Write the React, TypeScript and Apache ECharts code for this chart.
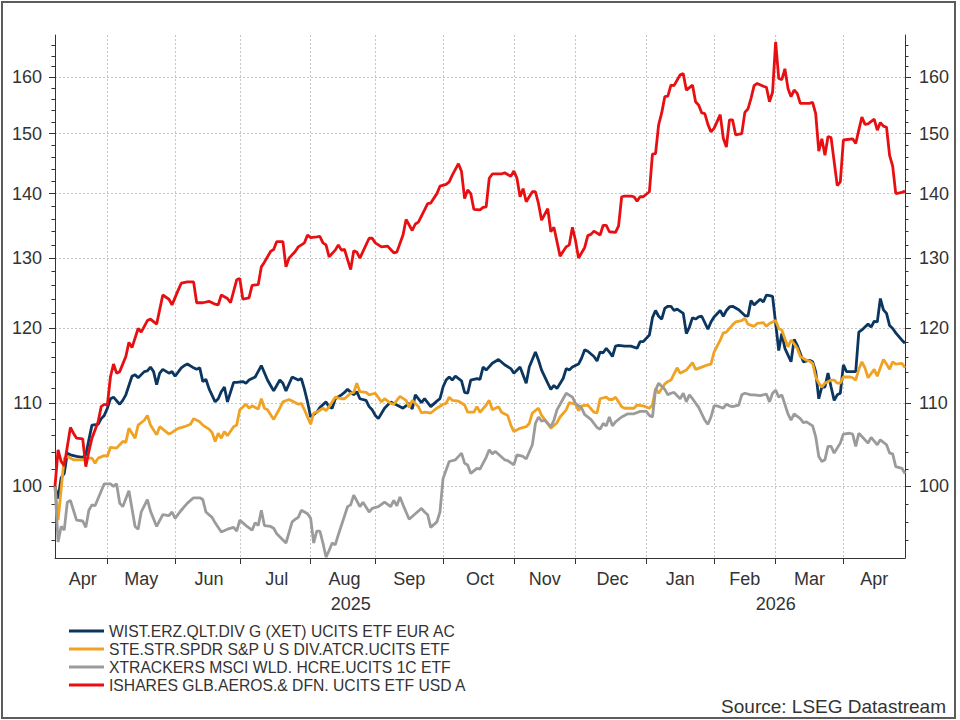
import React, { useEffect, useRef } from "react";
import * as echarts from "echarts";

// Trading-day calendar shown on the x axis (weekdays only)
const START_DAY = "2025-04-08";
const END_DAY = "2026-04-29";
const MONTH_NAMES = ["Jan", "Feb", "Mar", "Apr", "May", "Jun", "Jul", "Aug", "Sep", "Oct", "Nov", "Dec"];

// Logarithmic value axis
const Y_MIN = 92.1;
const Y_MAX = 168;
const Y_MAJOR = [100, 110, 120, 130, 140, 150, 160];
const Y_MINOR = [94, 96, 98, 100, 102, 104, 106, 108, 110, 112, 114, 116, 118, 120, 122, 124, 126, 128, 130, 132, 134, 136, 138, 140, 142, 144, 146, 148, 150, 152, 154, 156, 158, 160, 162, 164, 166];

const SERIES_NAMES = [
  "WIST.ERZ.QLT.DIV G (XET) UCITS ETF EUR AC",
  "STE.STR.SPDR S&P U S DIV.ATCR.UCITS ETF",
  "XTRACKERS MSCI WLD. HCRE.UCITS 1C ETF",
  "ISHARES GLB.AEROS.& DFN. UCITS ETF USD A",
];
const SERIES_COLORS = ["#0b365f", "#f0a223", "#9b9b9b", "#e80f12"];

type Pt = [string, number];

const wisdomTreeQuality: Pt[] = [
  ["2025-04-08", 100.0], ["2025-04-09", 98.6], ["2025-04-10", 101.0], ["2025-04-11", 101.5], ["2025-04-14", 103.9],
  ["2025-04-15", 103.7], ["2025-04-17", 103.5], ["2025-04-21", 103.4], ["2025-04-22", 103.7], ["2025-04-23", 105.5],
  ["2025-04-24", 107.3], ["2025-04-28", 107.4], ["2025-04-29", 108.1], ["2025-04-30", 108.5], ["2025-05-01", 109.4],
  ["2025-05-02", 110.6], ["2025-05-05", 110.8], ["2025-05-07", 109.9], ["2025-05-08", 110.4], ["2025-05-09", 111.1],
  ["2025-05-13", 113.5], ["2025-05-14", 113.7], ["2025-05-15", 113.3], ["2025-05-19", 114.1], ["2025-05-20", 114.2],
  ["2025-05-21", 114.7], ["2025-05-22", 114.1], ["2025-05-23", 112.4], ["2025-05-26", 113.9], ["2025-05-27", 114.4],
  ["2025-05-29", 113.9], ["2025-05-30", 114.1], ["2025-06-02", 113.5], ["2025-06-04", 114.6], ["2025-06-05", 114.9],
  ["2025-06-06", 115.1], ["2025-06-10", 114.6], ["2025-06-11", 114.4], ["2025-06-12", 114.6], ["2025-06-13", 112.8],
  ["2025-06-16", 113.1], ["2025-06-17", 111.9], ["2025-06-19", 110.2], ["2025-06-20", 110.6], ["2025-06-23", 111.5],
  ["2025-06-24", 112.1], ["2025-06-25", 110.2], ["2025-06-27", 112.7], ["2025-06-30", 112.7], ["2025-07-02", 112.8],
  ["2025-07-03", 112.6], ["2025-07-04", 113.0], ["2025-07-08", 113.4], ["2025-07-10", 114.9], ["2025-07-14", 113.0],
  ["2025-07-15", 112.3], ["2025-07-16", 111.6], ["2025-07-18", 113.0], ["2025-07-21", 112.6], ["2025-07-22", 111.6],
  ["2025-07-24", 113.4], ["2025-07-28", 113.0], ["2025-07-29", 113.2], ["2025-07-30", 111.8], ["2025-07-31", 110.2],
  ["2025-08-01", 108.3], ["2025-08-05", 108.9], ["2025-08-06", 109.5], ["2025-08-08", 110.2], ["2025-08-11", 109.6],
  ["2025-08-12", 109.4], ["2025-08-13", 110.6], ["2025-08-15", 111.1], ["2025-08-18", 111.4], ["2025-08-19", 111.8],
  ["2025-08-21", 111.1], ["2025-08-22", 111.5], ["2025-08-25", 110.6], ["2025-08-27", 110.4], ["2025-08-28", 109.6],
  ["2025-08-29", 109.2], ["2025-09-01", 108.5], ["2025-09-02", 108.1], ["2025-09-04", 109.4], ["2025-09-08", 110.2],
  ["2025-09-10", 109.8], ["2025-09-12", 109.4], ["2025-09-16", 110.0], ["2025-09-17", 109.3], ["2025-09-18", 111.1],
  ["2025-09-22", 110.1], ["2025-09-23", 110.6], ["2025-09-25", 109.6], ["2025-09-29", 110.3], ["2025-09-30", 110.6],
  ["2025-10-01", 112.1], ["2025-10-02", 113.0], ["2025-10-03", 113.4], ["2025-10-06", 113.0], ["2025-10-07", 113.5],
  ["2025-10-09", 112.9], ["2025-10-10", 111.4], ["2025-10-13", 111.3], ["2025-10-14", 113.0], ["2025-10-16", 113.2],
  ["2025-10-17", 113.1], ["2025-10-20", 114.7], ["2025-10-21", 114.3], ["2025-10-23", 115.2], ["2025-10-27", 115.7],
  ["2025-10-29", 115.0], ["2025-10-31", 114.5], ["2025-11-03", 113.9], ["2025-11-05", 114.7], ["2025-11-07", 112.6],
  ["2025-11-10", 114.7], ["2025-11-12", 116.7], ["2025-11-13", 115.6], ["2025-11-14", 114.3], ["2025-11-18", 112.6],
  ["2025-11-19", 111.8], ["2025-11-20", 112.3], ["2025-11-21", 111.9], ["2025-11-25", 113.2], ["2025-11-26", 114.5],
  ["2025-11-27", 114.3], ["2025-11-28", 114.7], ["2025-12-02", 115.1], ["2025-12-03", 115.9], ["2025-12-04", 117.0],
  ["2025-12-05", 116.8], ["2025-12-09", 116.1], ["2025-12-10", 115.5], ["2025-12-11", 116.7], ["2025-12-12", 116.6],
  ["2025-12-15", 117.2], ["2025-12-16", 116.7], ["2025-12-17", 116.1], ["2025-12-18", 117.5], ["2025-12-19", 117.6],
  ["2025-12-23", 117.5], ["2025-12-25", 117.5], ["2025-12-29", 117.2], ["2025-12-30", 118.1], ["2025-12-31", 118.1],
  ["2026-01-02", 119.0], ["2026-01-05", 121.4], ["2026-01-06", 122.4], ["2026-01-07", 121.6], ["2026-01-08", 121.2],
  ["2026-01-09", 122.7], ["2026-01-12", 123.0], ["2026-01-13", 123.0], ["2026-01-14", 122.4], ["2026-01-15", 122.6],
  ["2026-01-19", 122.0], ["2026-01-20", 119.2], ["2026-01-21", 120.1], ["2026-01-22", 121.4], ["2026-01-23", 121.2],
  ["2026-01-26", 121.5], ["2026-01-27", 121.6], ["2026-01-29", 119.8], ["2026-01-30", 120.8], ["2026-02-02", 121.5],
  ["2026-02-04", 122.4], ["2026-02-05", 121.6], ["2026-02-06", 122.4], ["2026-02-09", 122.9], ["2026-02-10", 123.0],
  ["2026-02-12", 122.5], ["2026-02-16", 121.7], ["2026-02-17", 121.6], ["2026-02-18", 123.8], ["2026-02-19", 123.2],
  ["2026-02-23", 124.0], ["2026-02-24", 123.6], ["2026-02-25", 124.6], ["2026-02-26", 124.5], ["2026-02-27", 124.4],
  ["2026-03-02", 120.6], ["2026-03-03", 116.9], ["2026-03-04", 119.2], ["2026-03-05", 117.2], ["2026-03-09", 115.4],
  ["2026-03-10", 118.4], ["2026-03-11", 117.6], ["2026-03-13", 115.4], ["2026-03-17", 115.6], ["2026-03-18", 115.4],
  ["2026-03-19", 114.1], ["2026-03-20", 110.6], ["2026-03-23", 112.1], ["2026-03-24", 112.1], ["2026-03-25", 113.9],
  ["2026-03-26", 112.1], ["2026-03-27", 110.4], ["2026-03-30", 111.1], ["2026-03-31", 111.3], ["2026-04-01", 115.0],
  ["2026-04-02", 114.1], ["2026-04-06", 114.1], ["2026-04-07", 114.1], ["2026-04-08", 119.4], ["2026-04-09", 119.7],
  ["2026-04-10", 120.1], ["2026-04-13", 120.5], ["2026-04-14", 120.1], ["2026-04-15", 120.9], ["2026-04-16", 120.8],
  ["2026-04-17", 124.1], ["2026-04-20", 122.5], ["2026-04-21", 122.0], ["2026-04-22", 120.3], ["2026-04-23", 119.9],
  ["2026-04-24", 119.3], ["2026-04-28", 118.3], ["2026-04-29", 117.9],
];

const spdrDividend: Pt[] = [
  ["2025-04-08", 100.0], ["2025-04-09", 96.2], ["2025-04-11", 103.3], ["2025-04-14", 103.5], ["2025-04-16", 103.1],
  ["2025-04-18", 103.1], ["2025-04-21", 103.1], ["2025-04-22", 103.3], ["2025-04-24", 103.3], ["2025-04-25", 102.7],
  ["2025-04-28", 103.3], ["2025-04-30", 103.6], ["2025-05-01", 103.5], ["2025-05-02", 104.6], ["2025-05-06", 104.5],
  ["2025-05-08", 105.3], ["2025-05-09", 105.2], ["2025-05-12", 106.9], ["2025-05-14", 105.7], ["2025-05-15", 107.3],
  ["2025-05-19", 107.9], ["2025-05-20", 108.5], ["2025-05-21", 107.3], ["2025-05-23", 106.1], ["2025-05-26", 107.1],
  ["2025-05-27", 106.8], ["2025-05-29", 106.2], ["2025-05-30", 106.4], ["2025-06-03", 106.9], ["2025-06-04", 107.0],
  ["2025-06-05", 107.1], ["2025-06-09", 107.4], ["2025-06-10", 108.1], ["2025-06-12", 107.7], ["2025-06-13", 107.3],
  ["2025-06-17", 106.8], ["2025-06-18", 106.4], ["2025-06-19", 105.3], ["2025-06-20", 106.3], ["2025-06-23", 105.7],
  ["2025-06-24", 106.5], ["2025-06-25", 106.0], ["2025-06-27", 107.1], ["2025-06-30", 107.3], ["2025-07-01", 109.2],
  ["2025-07-03", 109.9], ["2025-07-04", 109.4], ["2025-07-07", 109.7], ["2025-07-09", 109.3], ["2025-07-10", 110.6],
  ["2025-07-11", 109.4], ["2025-07-14", 109.2], ["2025-07-16", 108.0], ["2025-07-18", 109.4], ["2025-07-21", 110.2],
  ["2025-07-23", 110.5], ["2025-07-24", 110.3], ["2025-07-28", 109.9], ["2025-07-29", 110.0], ["2025-07-30", 109.2],
  ["2025-08-01", 107.4], ["2025-08-04", 108.8], ["2025-08-05", 108.9], ["2025-08-07", 109.4], ["2025-08-08", 109.1],
  ["2025-08-11", 109.6], ["2025-08-13", 110.8], ["2025-08-15", 110.6], ["2025-08-18", 110.6], ["2025-08-20", 111.3],
  ["2025-08-21", 111.4], ["2025-08-22", 112.6], ["2025-08-25", 111.5], ["2025-08-27", 111.4], ["2025-08-28", 111.1],
  ["2025-09-01", 111.3], ["2025-09-03", 110.2], ["2025-09-04", 110.6], ["2025-09-08", 110.0], ["2025-09-09", 109.9],
  ["2025-09-11", 110.9], ["2025-09-15", 110.4], ["2025-09-16", 109.5], ["2025-09-17", 110.4], ["2025-09-19", 109.6],
  ["2025-09-22", 108.8], ["2025-09-23", 108.9], ["2025-09-25", 108.8], ["2025-09-29", 109.4], ["2025-10-01", 109.9],
  ["2025-10-02", 110.0], ["2025-10-03", 110.8], ["2025-10-06", 110.4], ["2025-10-08", 110.3], ["2025-10-10", 109.8],
  ["2025-10-13", 108.9], ["2025-10-15", 108.9], ["2025-10-16", 109.6], ["2025-10-17", 108.9], ["2025-10-21", 109.8],
  ["2025-10-22", 110.4], ["2025-10-23", 109.2], ["2025-10-27", 109.6], ["2025-10-28", 108.9], ["2025-10-30", 108.5],
  ["2025-10-31", 107.3], ["2025-11-03", 106.5], ["2025-11-05", 106.9], ["2025-11-07", 107.1], ["2025-11-10", 107.5],
  ["2025-11-11", 108.8], ["2025-11-13", 109.4], ["2025-11-14", 108.5], ["2025-11-18", 107.5], ["2025-11-19", 106.9],
  ["2025-11-21", 107.6], ["2025-11-24", 108.3], ["2025-11-26", 109.2], ["2025-11-27", 110.1], ["2025-12-01", 109.9],
  ["2025-12-02", 109.1], ["2025-12-03", 109.7], ["2025-12-05", 109.8], ["2025-12-09", 108.9], ["2025-12-10", 108.8],
  ["2025-12-11", 110.6], ["2025-12-15", 110.8], ["2025-12-16", 110.5], ["2025-12-17", 110.5], ["2025-12-18", 110.8],
  ["2025-12-22", 109.6], ["2025-12-23", 109.4], ["2025-12-26", 109.4], ["2025-12-29", 109.8], ["2025-12-31", 109.7],
  ["2026-01-02", 109.4], ["2026-01-05", 109.8], ["2026-01-06", 111.9], ["2026-01-07", 111.3], ["2026-01-09", 112.5],
  ["2026-01-12", 112.8], ["2026-01-13", 113.0], ["2026-01-15", 114.6], ["2026-01-16", 113.9], ["2026-01-20", 114.3],
  ["2026-01-22", 115.3], ["2026-01-23", 114.4], ["2026-01-27", 114.7], ["2026-01-29", 115.0], ["2026-01-30", 115.1],
  ["2026-02-02", 116.7], ["2026-02-04", 118.3], ["2026-02-05", 119.3], ["2026-02-06", 119.4], ["2026-02-10", 120.4],
  ["2026-02-11", 120.8], ["2026-02-13", 121.0], ["2026-02-16", 121.3], ["2026-02-17", 120.5], ["2026-02-19", 120.2],
  ["2026-02-20", 120.6], ["2026-02-24", 120.7], ["2026-02-25", 120.2], ["2026-02-26", 120.6], ["2026-03-02", 121.0],
  ["2026-03-03", 119.9], ["2026-03-04", 119.7], ["2026-03-05", 118.5], ["2026-03-06", 117.4], ["2026-03-09", 118.3],
  ["2026-03-10", 117.8], ["2026-03-11", 117.2], ["2026-03-12", 116.1], ["2026-03-16", 115.6], ["2026-03-17", 115.5],
  ["2026-03-18", 115.2], ["2026-03-19", 113.4], ["2026-03-20", 112.6], ["2026-03-23", 112.1], ["2026-03-24", 112.6],
  ["2026-03-26", 113.0], ["2026-03-27", 113.0], ["2026-03-30", 112.6], ["2026-03-31", 112.6], ["2026-04-01", 113.4],
  ["2026-04-03", 113.4], ["2026-04-06", 113.3], ["2026-04-07", 113.0], ["2026-04-08", 114.4], ["2026-04-09", 115.4],
  ["2026-04-10", 114.6], ["2026-04-13", 113.3], ["2026-04-15", 114.4], ["2026-04-16", 113.5], ["2026-04-17", 114.6],
  ["2026-04-20", 115.7], ["2026-04-21", 115.1], ["2026-04-22", 114.4], ["2026-04-23", 115.4], ["2026-04-24", 115.1],
  ["2026-04-28", 115.2], ["2026-04-29", 114.6],
];

const xtrackersHealthcare: Pt[] = [
  ["2025-04-08", 100.0], ["2025-04-09", 93.8], ["2025-04-10", 95.5], ["2025-04-11", 95.1], ["2025-04-14", 98.2],
  ["2025-04-15", 98.4], ["2025-04-17", 96.2], ["2025-04-21", 96.1], ["2025-04-22", 95.4], ["2025-04-23", 97.3],
  ["2025-04-24", 97.9], ["2025-04-25", 97.8], ["2025-04-30", 100.3], ["2025-05-02", 100.3], ["2025-05-05", 100.0],
  ["2025-05-06", 100.3], ["2025-05-07", 98.1], ["2025-05-08", 97.7], ["2025-05-12", 99.5], ["2025-05-14", 95.5],
  ["2025-05-15", 95.2], ["2025-05-16", 97.1], ["2025-05-20", 98.5], ["2025-05-21", 97.2], ["2025-05-23", 95.5],
  ["2025-05-27", 96.8], ["2025-05-29", 96.7], ["2025-05-30", 97.1], ["2025-06-02", 96.4], ["2025-06-04", 97.3],
  ["2025-06-05", 97.7], ["2025-06-06", 98.1], ["2025-06-10", 98.7], ["2025-06-12", 98.7], ["2025-06-13", 98.5],
  ["2025-06-16", 97.1], ["2025-06-18", 96.5], ["2025-06-19", 95.9], ["2025-06-23", 94.9], ["2025-06-25", 95.2],
  ["2025-06-27", 95.4], ["2025-06-30", 95.0], ["2025-07-01", 96.2], ["2025-07-03", 95.6], ["2025-07-07", 95.1],
  ["2025-07-08", 95.9], ["2025-07-09", 95.6], ["2025-07-10", 97.3], ["2025-07-11", 95.6], ["2025-07-15", 95.5],
  ["2025-07-16", 95.3], ["2025-07-17", 94.7], ["2025-07-22", 93.7], ["2025-07-24", 96.0], ["2025-07-25", 96.3],
  ["2025-07-28", 96.5], ["2025-07-29", 97.3], ["2025-07-30", 97.1], ["2025-07-31", 96.9], ["2025-08-01", 96.4],
  ["2025-08-04", 93.7], ["2025-08-05", 95.0], ["2025-08-06", 95.0], ["2025-08-07", 93.7], ["2025-08-08", 92.2],
  ["2025-08-11", 92.9], ["2025-08-12", 93.7], ["2025-08-13", 93.5], ["2025-08-14", 94.6], ["2025-08-19", 97.7],
  ["2025-08-20", 97.9], ["2025-08-21", 99.0], ["2025-08-25", 97.7], ["2025-08-26", 98.2], ["2025-08-28", 97.1],
  ["2025-08-29", 97.5], ["2025-09-02", 97.7], ["2025-09-04", 98.2], ["2025-09-08", 97.7], ["2025-09-09", 98.4],
  ["2025-09-10", 97.8], ["2025-09-11", 98.8], ["2025-09-12", 97.9], ["2025-09-16", 96.3], ["2025-09-18", 96.9],
  ["2025-09-22", 97.5], ["2025-09-23", 97.1], ["2025-09-24", 96.8], ["2025-09-25", 95.4], ["2025-09-29", 96.0],
  ["2025-09-30", 97.1], ["2025-10-01", 100.9], ["2025-10-03", 102.9], ["2025-10-07", 103.1], ["2025-10-09", 103.9],
  ["2025-10-10", 102.7], ["2025-10-13", 102.5], ["2025-10-14", 101.5], ["2025-10-16", 102.1], ["2025-10-17", 102.0],
  ["2025-10-21", 103.4], ["2025-10-22", 104.3], ["2025-10-23", 103.8], ["2025-10-24", 104.1], ["2025-10-29", 103.1],
  ["2025-10-30", 103.0], ["2025-11-03", 102.5], ["2025-11-04", 103.7], ["2025-11-06", 103.5], ["2025-11-07", 103.2],
  ["2025-11-11", 104.9], ["2025-11-12", 107.5], ["2025-11-13", 108.3], ["2025-11-14", 107.8], ["2025-11-17", 107.9],
  ["2025-11-19", 107.1], ["2025-11-20", 107.9], ["2025-11-21", 109.2], ["2025-11-25", 110.6], ["2025-11-26", 111.3],
  ["2025-11-28", 110.8], ["2025-12-01", 110.0], ["2025-12-03", 109.4], ["2025-12-04", 108.6], ["2025-12-08", 108.0],
  ["2025-12-10", 107.0], ["2025-12-11", 106.8], ["2025-12-12", 107.5], ["2025-12-15", 107.2], ["2025-12-16", 108.3],
  ["2025-12-17", 107.2], ["2025-12-18", 107.7], ["2025-12-22", 108.3], ["2025-12-24", 108.7], ["2025-12-26", 108.7],
  ["2025-12-30", 109.0], ["2026-01-01", 109.0], ["2026-01-02", 108.5], ["2026-01-05", 108.3], ["2026-01-06", 111.7],
  ["2026-01-07", 112.6], ["2026-01-09", 111.8], ["2026-01-12", 111.1], ["2026-01-13", 111.3], ["2026-01-14", 111.4],
  ["2026-01-16", 110.6], ["2026-01-19", 111.3], ["2026-01-20", 110.2], ["2026-01-21", 111.1], ["2026-01-22", 110.6],
  ["2026-01-26", 109.5], ["2026-01-28", 107.9], ["2026-01-29", 107.4], ["2026-01-30", 108.3], ["2026-02-02", 109.7],
  ["2026-02-03", 109.7], ["2026-02-05", 109.4], ["2026-02-06", 109.9], ["2026-02-09", 109.7], ["2026-02-10", 109.6],
  ["2026-02-12", 109.8], ["2026-02-13", 111.1], ["2026-02-16", 111.3], ["2026-02-18", 111.1], ["2026-02-19", 111.1],
  ["2026-02-23", 111.0], ["2026-02-25", 111.2], ["2026-02-26", 110.2], ["2026-02-27", 111.3], ["2026-03-02", 111.7],
  ["2026-03-03", 110.8], ["2026-03-04", 111.1], ["2026-03-06", 108.7], ["2026-03-09", 107.9], ["2026-03-10", 108.7],
  ["2026-03-12", 108.1], ["2026-03-13", 107.6], ["2026-03-16", 107.7], ["2026-03-18", 107.2], ["2026-03-19", 105.9],
  ["2026-03-20", 103.5], ["2026-03-23", 102.9], ["2026-03-24", 103.1], ["2026-03-25", 104.7], ["2026-03-26", 104.7],
  ["2026-03-27", 103.9], ["2026-03-31", 105.1], ["2026-04-01", 106.2], ["2026-04-03", 106.3], ["2026-04-06", 106.2],
  ["2026-04-07", 104.7], ["2026-04-08", 106.3], ["2026-04-09", 105.9], ["2026-04-13", 105.1], ["2026-04-14", 105.8],
  ["2026-04-16", 104.9], ["2026-04-17", 105.5], ["2026-04-21", 104.9], ["2026-04-22", 103.9], ["2026-04-23", 103.8],
  ["2026-04-24", 102.3], ["2026-04-28", 102.1], ["2026-04-29", 101.5],
];

const isharesDefence: Pt[] = [
  ["2025-04-08", 100.0], ["2025-04-09", 104.3], ["2025-04-10", 102.9], ["2025-04-11", 102.4], ["2025-04-15", 107.0],
  ["2025-04-16", 106.3], ["2025-04-17", 105.7], ["2025-04-21", 105.6], ["2025-04-22", 102.3], ["2025-04-23", 104.1],
  ["2025-04-24", 105.7], ["2025-04-28", 107.7], ["2025-04-29", 109.6], ["2025-04-30", 109.9], ["2025-05-01", 109.8],
  ["2025-05-02", 113.4], ["2025-05-05", 115.1], ["2025-05-06", 113.9], ["2025-05-07", 114.1], ["2025-05-09", 116.1],
  ["2025-05-12", 118.0], ["2025-05-13", 117.3], ["2025-05-15", 119.9], ["2025-05-16", 119.4], ["2025-05-20", 121.0],
  ["2025-05-21", 121.2], ["2025-05-23", 120.5], ["2025-05-27", 124.6], ["2025-05-29", 124.0], ["2025-05-30", 123.2],
  ["2025-06-03", 125.3], ["2025-06-04", 126.3], ["2025-06-06", 126.5], ["2025-06-10", 126.5], ["2025-06-11", 123.5],
  ["2025-06-13", 123.5], ["2025-06-17", 123.7], ["2025-06-19", 123.3], ["2025-06-20", 123.2], ["2025-06-23", 124.6],
  ["2025-06-25", 124.1], ["2025-06-26", 123.5], ["2025-06-30", 126.8], ["2025-07-01", 127.0], ["2025-07-02", 124.0],
  ["2025-07-04", 124.2], ["2025-07-07", 126.0], ["2025-07-09", 126.1], ["2025-07-10", 128.7], ["2025-07-11", 129.4],
  ["2025-07-15", 131.0], ["2025-07-16", 131.3], ["2025-07-17", 132.5], ["2025-07-21", 132.5], ["2025-07-22", 128.7],
  ["2025-07-23", 130.0], ["2025-07-25", 131.0], ["2025-07-28", 131.7], ["2025-07-30", 132.3], ["2025-07-31", 133.5],
  ["2025-08-01", 133.1], ["2025-08-05", 133.2], ["2025-08-06", 133.3], ["2025-08-07", 132.3], ["2025-08-08", 132.0],
  ["2025-08-11", 130.2], ["2025-08-13", 131.2], ["2025-08-14", 132.0], ["2025-08-15", 131.2], ["2025-08-18", 131.3],
  ["2025-08-20", 128.3], ["2025-08-21", 131.1], ["2025-08-22", 130.9], ["2025-08-25", 130.0], ["2025-08-27", 132.0],
  ["2025-08-28", 133.0], ["2025-08-29", 133.0], ["2025-09-01", 132.3], ["2025-09-03", 131.7], ["2025-09-05", 131.8],
  ["2025-09-08", 131.3], ["2025-09-09", 130.8], ["2025-09-10", 130.9], ["2025-09-12", 133.5], ["2025-09-15", 135.9],
  ["2025-09-17", 134.2], ["2025-09-18", 135.2], ["2025-09-19", 135.5], ["2025-09-23", 137.4], ["2025-09-24", 138.4],
  ["2025-09-25", 138.5], ["2025-09-29", 140.0], ["2025-09-30", 141.2], ["2025-10-02", 141.5], ["2025-10-03", 141.9],
  ["2025-10-06", 143.0], ["2025-10-08", 144.9], ["2025-10-09", 143.6], ["2025-10-10", 139.2], ["2025-10-13", 140.6],
  ["2025-10-14", 140.0], ["2025-10-15", 137.5], ["2025-10-17", 137.4], ["2025-10-20", 137.8], ["2025-10-21", 137.9],
  ["2025-10-22", 142.5], ["2025-10-23", 143.2], ["2025-10-28", 143.2], ["2025-10-29", 143.4], ["2025-10-31", 142.8],
  ["2025-11-03", 143.7], ["2025-11-04", 142.5], ["2025-11-05", 139.5], ["2025-11-06", 140.8], ["2025-11-07", 138.7],
  ["2025-11-11", 140.3], ["2025-11-12", 140.3], ["2025-11-13", 138.4], ["2025-11-14", 135.8], ["2025-11-18", 137.6],
  ["2025-11-19", 134.0], ["2025-11-20", 134.7], ["2025-11-24", 130.3], ["2025-11-26", 131.7], ["2025-11-27", 132.0],
  ["2025-11-28", 134.7], ["2025-12-01", 132.7], ["2025-12-02", 130.0], ["2025-12-04", 131.6], ["2025-12-05", 133.4],
  ["2025-12-08", 133.6], ["2025-12-09", 134.1], ["2025-12-11", 133.5], ["2025-12-12", 135.0], ["2025-12-15", 135.0],
  ["2025-12-16", 134.0], ["2025-12-18", 133.9], ["2025-12-19", 134.9], ["2025-12-22", 139.5], ["2025-12-23", 139.6],
  ["2025-12-25", 139.6], ["2025-12-26", 139.5], ["2025-12-29", 138.8], ["2025-12-30", 139.5], ["2025-12-31", 139.5],
  ["2026-01-02", 140.3], ["2026-01-05", 146.5], ["2026-01-06", 146.6], ["2026-01-07", 151.5], ["2026-01-08", 153.6],
  ["2026-01-09", 156.5], ["2026-01-12", 156.6], ["2026-01-13", 158.6], ["2026-01-14", 158.5], ["2026-01-16", 160.5],
  ["2026-01-19", 160.7], ["2026-01-20", 157.7], ["2026-01-22", 158.6], ["2026-01-23", 155.6], ["2026-01-26", 155.0],
  ["2026-01-27", 153.6], ["2026-01-28", 153.5], ["2026-01-29", 151.6], ["2026-01-30", 150.3], ["2026-02-02", 150.9],
  ["2026-02-04", 153.3], ["2026-02-05", 149.2], ["2026-02-06", 147.7], ["2026-02-09", 152.4], ["2026-02-10", 152.4],
  ["2026-02-11", 149.8], ["2026-02-13", 150.0], ["2026-02-16", 153.7], ["2026-02-17", 154.3], ["2026-02-18", 156.2],
  ["2026-02-19", 158.5], ["2026-02-20", 158.9], ["2026-02-24", 158.4], ["2026-02-25", 158.2], ["2026-02-26", 155.6],
  ["2026-02-27", 157.3], ["2026-03-02", 166.7], ["2026-03-03", 159.8], ["2026-03-04", 159.6], ["2026-03-05", 161.6],
  ["2026-03-06", 158.0], ["2026-03-09", 156.5], ["2026-03-10", 157.7], ["2026-03-11", 157.1], ["2026-03-12", 155.3],
  ["2026-03-17", 155.3], ["2026-03-18", 155.5], ["2026-03-19", 153.5], ["2026-03-20", 147.0], ["2026-03-23", 149.1],
  ["2026-03-24", 146.3], ["2026-03-25", 149.5], ["2026-03-26", 149.3], ["2026-03-30", 141.3], ["2026-03-31", 141.9],
  ["2026-04-01", 148.9], ["2026-04-06", 149.1], ["2026-04-07", 148.3], ["2026-04-08", 150.6], ["2026-04-09", 152.9],
  ["2026-04-10", 151.6], ["2026-04-13", 151.7], ["2026-04-15", 152.5], ["2026-04-16", 150.6], ["2026-04-17", 151.9],
  ["2026-04-20", 151.3], ["2026-04-21", 151.1], ["2026-04-22", 146.3], ["2026-04-23", 144.5], ["2026-04-24", 140.0],
  ["2026-04-28", 140.2], ["2026-04-29", 140.4],
];

const FONT = "'Liberation Sans', Arial, Helvetica, sans-serif";
const TEXT_COLOR = "#333333";
const AXIS_COLOR = "#333333";
const GRID_LINE = { color: "#c6c6c6", width: 1, type: [2, 2] as number[] };

function weekdaysBetween(start: string, end: string): string[] {
  const out: string[] = [];
  const d = new Date(start + "T00:00:00Z");
  const last = new Date(end + "T00:00:00Z").getTime();
  while (d.getTime() <= last) {
    const wd = d.getUTCDay();
    if (wd !== 0 && wd !== 6) out.push(d.toISOString().slice(0, 10));
    d.setUTCDate(d.getUTCDate() + 1);
  }
  return out;
}

function buildOption() {
  const days = weekdaysBetween(START_DAY, END_DAY);
  const lastIdx = days.length - 1;

  // First trading day of each month -> ticks and vertical grid lines
  const monthStarts: number[] = [];
  const yearStarts: number[] = [];
  days.forEach((d, i) => {
    if (i > 0 && d.slice(0, 7) !== days[i - 1].slice(0, 7)) monthStarts.push(i);
    if (i > 0 && d.slice(0, 4) !== days[i - 1].slice(0, 4)) yearStarts.push(i);
  });
  const monthStartSet = new Set(monthStarts);

  // Month and year names sit in the middle of their span
  const monthLabels = new Map<number, string>();
  const mFrom = [0, ...monthStarts];
  const mTo = [...monthStarts, lastIdx];
  mFrom.forEach((s, k) => {
    monthLabels.set(Math.round((s + mTo[k]) / 2), MONTH_NAMES[Number(days[s].slice(5, 7)) - 1]);
  });
  const yearLabels = new Map<number, string>();
  const yFrom = [0, ...yearStarts];
  const yTo = [...yearStarts, lastIdx];
  yFrom.forEach((s, k) => {
    yearLabels.set(Math.round((s + yTo[k]) / 2), days[s].slice(0, 4));
  });

  const align = (pts: Pt[]) => {
    const m = new Map(pts);
    return days.map((d) => (m.has(d) ? (m.get(d) as number) : null));
  };
  const seriesData = [wisdomTreeQuality, spdrDividend, xtrackersHealthcare, isharesDefence];

  const yBase = {
    type: "log" as const,
    logBase: 10,
    min: Y_MIN,
    max: Y_MAX,
  };
  const labelStyle = { color: TEXT_COLOR, fontSize: 18, fontFamily: FONT };

  const xBase = {
    type: "category" as const,
    data: days,
    boundaryGap: false,
    position: "bottom" as const,
  };

  return {
    animation: false,
    backgroundColor: "#ffffff",
    textStyle: { fontFamily: FONT },
    grid: { left: 55, right: 55, top: 35, bottom: 162, containLabel: false, outerBoundsMode: "none" },
    legend: {
      orient: "vertical",
      left: 64,
      top: 618,
      icon: "rect",
      itemWidth: 35,
      itemHeight: 3,
      itemGap: 2,
      selectedMode: false,
      data: SERIES_NAMES,
      textStyle: { color: TEXT_COLOR, fontSize: 15.7, lineHeight: 16, fontFamily: FONT },
    },
    xAxis: [
      {
        ...xBase,
        axisLine: { show: true, onZero: false, lineStyle: { color: AXIS_COLOR, width: 1 } },
        axisTick: { show: true, interval: (i: number) => monthStartSet.has(i), length: 6, lineStyle: { color: AXIS_COLOR } },
        axisLabel: { show: false },
        splitLine: { show: true, interval: (i: number) => monthStartSet.has(i), lineStyle: GRID_LINE },
      },
      {
        ...xBase,
        axisLine: { show: false },
        axisTick: { show: false },
        splitLine: { show: false },
        axisLabel: {
          ...labelStyle,
          margin: 12,
          interval: (i: number) => monthLabels.has(i),
          formatter: (_v: string, i: number) => monthLabels.get(i) ?? "",
        },
      },
      {
        ...xBase,
        axisLine: { show: false },
        axisTick: { show: false },
        splitLine: { show: false },
        axisLabel: {
          ...labelStyle,
          margin: 37,
          interval: (i: number) => yearLabels.has(i),
          formatter: (_v: string, i: number) => yearLabels.get(i) ?? "",
        },
      },
    ],
    yAxis: [
      {
        ...yBase,
        position: "left",
        axisLine: { show: true, lineStyle: { color: AXIS_COLOR, width: 1 } },
        axisTick: { show: true, customValues: Y_MAJOR, length: 6, lineStyle: { color: AXIS_COLOR } },
        axisLabel: { ...labelStyle, customValues: Y_MAJOR, margin: 13 },
        splitLine: { show: true, lineStyle: GRID_LINE },
      },
      {
        ...yBase,
        position: "left",
        axisLine: { show: false },
        axisTick: { show: true, customValues: Y_MINOR, length: 3.5, lineStyle: { color: AXIS_COLOR } },
        axisLabel: { show: false },
        splitLine: { show: false },
      },
      {
        ...yBase,
        position: "right",
        axisLine: { show: true, lineStyle: { color: AXIS_COLOR, width: 1 } },
        axisTick: { show: true, customValues: Y_MAJOR, length: 6, lineStyle: { color: AXIS_COLOR } },
        axisLabel: { ...labelStyle, customValues: Y_MAJOR, margin: 14 },
        splitLine: { show: false },
      },
      {
        ...yBase,
        position: "right",
        axisLine: { show: false },
        axisTick: { show: true, customValues: Y_MINOR, length: 3.5, lineStyle: { color: AXIS_COLOR } },
        axisLabel: { show: false },
        splitLine: { show: false },
      },
    ],
    series: SERIES_NAMES.map((name, k) => ({
      name,
      type: "line",
      xAxisIndex: 0,
      yAxisIndex: 0,
      data: align(seriesData[k]),
      connectNulls: true,
      showSymbol: false,
      symbol: "none",
      color: SERIES_COLORS[k],
      lineStyle: { color: SERIES_COLORS[k], width: 2.8 },
      emphasis: { disabled: true },
      z: 2 + k,
    })),
    graphic: [
      {
        type: "rect",
        shape: { x: 2, y: 2, width: 953, height: 716 },
        style: { fill: "none", stroke: "#5c5c5c", lineWidth: 2 },
        silent: true,
      },
      {
        type: "text",
        right: 14,
        top: 697,
        style: { text: "Source: LSEG Datastream", fill: TEXT_COLOR, fontSize: 19, fontFamily: FONT },
        silent: true,
      },
    ],
  };
}

export default function App() {
  const ref = useRef<HTMLDivElement | null>(null);
  useEffect(() => {
    if (!ref.current) return;
    const chart = echarts.init(ref.current, undefined, { renderer: "svg" });
    chart.setOption(buildOption() as any);
    return () => chart.dispose();
  }, []);
  return (
    <div
      ref={ref}
      style={{ position: "absolute", left: 0, top: 0, width: 960, height: 720, background: "#fff" }}
    />
  );
}
